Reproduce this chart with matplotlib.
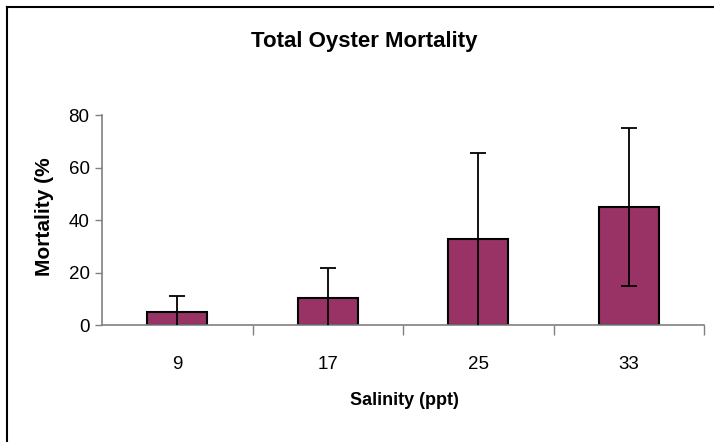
import matplotlib
matplotlib.use("Agg")
import matplotlib.pyplot as plt
from matplotlib.lines import Line2D
import numpy as np

salinity = ["9", "17", "25", "33"]
mortality = [5, 10.2, 32.8, 45]
err_up = [6, 11.6, 32.8, 30]
err_down = [6, 11.6, 34, 30]   # lower whiskers run into the axis

plt.rcParams['font.family'] = ['Liberation Sans', 'DejaVu Sans']

fig = plt.figure(figsize=(7.14, 4.42), dpi=100)
ax = fig.add_axes([0.1429, 0.2647, 0.8431, 0.4751])

x = np.arange(len(salinity))
ax.bar(x, mortality, width=0.4, color="#993366", edgecolor="black", linewidth=1.5, zorder=2)
ax.errorbar(x, mortality, yerr=[err_down, err_up], fmt="none", ecolor="black", elinewidth=1.3,
            capsize=6, capthick=1.3, zorder=3)

ax.set_xlim(-0.5, 3.5)
ax.set_ylim(0, 80)
ax.set_yticks([0, 20, 40, 60, 80])
ax.set_xticks(x)
ax.set_xticklabels(salinity)
ax.set_xticks(np.arange(len(salinity)) + 0.5, minor=True)
ax.tick_params(axis="x", which="major", length=0, pad=22, labelsize=13.5)
ax.tick_params(axis="x", which="minor", length=7, color="#808080", width=1, direction="out")
ax.tick_params(axis="y", length=5, color="#808080", width=1, labelsize=13.5, pad=4)

for s in ["top", "right"]:
    ax.spines[s].set_visible(False)
for s in ["left", "bottom"]:
    ax.spines[s].set_color("#808080")
    ax.spines[s].set_linewidth(1.2)

fig.text(0.51, 0.907, "Total Oyster Mortality", ha="center", va="center",
         fontsize=16, fontweight="bold")
fig.text(0.063, 0.509, "Mortality (%", ha="center", va="center", rotation=90,
         fontsize=15, fontweight="bold")
fig.text(0.566, 0.095, "Salinity (ppt)", ha="center", va="center",
         fontsize=13, fontweight="bold")

# chart border (top and left visible)
fig.add_artist(Line2D([7/714, 7/714], [0, 1 - 7/442], transform=fig.transFigure, color="black", lw=1.5))
fig.add_artist(Line2D([7/714, 1], [1 - 7/442, 1 - 7/442], transform=fig.transFigure, color="black", lw=1.5))

fig.savefig("out.png", dpi=100)
